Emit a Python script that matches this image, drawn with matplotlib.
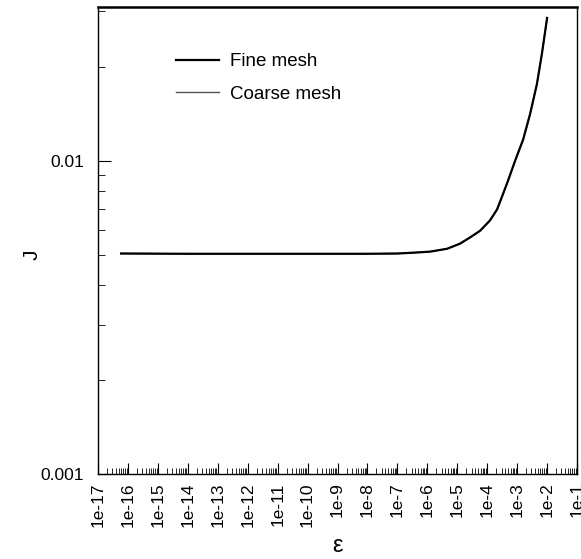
import numpy as np
import matplotlib
matplotlib.use("Agg")
import matplotlib.pyplot as plt
from matplotlib.ticker import LogLocator, FuncFormatter, NullFormatter, FixedLocator

plt.rcParams['font.family'] = ['Liberation Sans', 'DejaVu Sans']

# epsilon values (log10) and J
log_eps = [-16.23, -14.0, -12.0, -10.0, -8.0, -7.0, -6.48, -5.91, -5.34, -4.91,
           -4.58, -4.24, -3.91, -3.67, -3.47, -3.31, -3.07, -2.80, -2.57, -2.34,
           -2.17, -2.0]
j_fine = [0.00506, 0.00505, 0.00505, 0.00505, 0.00505, 0.00506, 0.00509, 0.00513,
          0.00524, 0.00544, 0.00569, 0.00598, 0.00645, 0.00700, 0.00785, 0.00862,
          0.0100, 0.0117, 0.0141, 0.0176, 0.0221, 0.0286]
j_coarse = list(j_fine)

eps = [10.0 ** v for v in log_eps]

fig = plt.figure(figsize=(5.81, 5.59), dpi=100)
ax = fig.add_axes([0.1687, 0.152, 0.8245, 0.8355])

ax.plot(eps, j_coarse, color='#555555', lw=1.0, label='Coarse mesh')
ax.plot(eps, j_fine, color='black', lw=1.6, label='Fine mesh')

ax.set_xscale('log')
ax.set_yscale('log')
ax.set_xlim(1e-17, 1e-1)
ax.set_ylim(0.001, 0.031)

ax.xaxis.set_major_locator(FixedLocator([10.0 ** k for k in range(-17, 0)]))
ax.xaxis.set_minor_locator(LogLocator(base=10, subs=np.arange(2, 10), numticks=100))
ax.xaxis.set_major_formatter(FuncFormatter(lambda v, p: "1e%d" % int(round(np.log10(v)))))
ax.xaxis.set_minor_formatter(NullFormatter())

ax.yaxis.set_major_locator(FixedLocator([0.001, 0.01]))
ax.yaxis.set_minor_locator(LogLocator(base=10, subs=np.arange(2, 10), numticks=10))
ax.yaxis.set_major_formatter(FuncFormatter(lambda v, p: "%g" % v))
ax.yaxis.set_minor_formatter(NullFormatter())

ax.tick_params(axis='x', which='major', direction='in', length=8, width=0.8,
               labelsize=12.5, labelrotation=90, pad=6)
ax.tick_params(axis='x', which='minor', direction='in', length=4, width=0.6)
ax.tick_params(axis='y', which='major', direction='in', length=9, width=0.8,
               labelsize=12.5, pad=10)
ax.tick_params(axis='y', which='minor', direction='in', length=5, width=0.6)

for s in ['left', 'bottom', 'right']:
    ax.spines[s].set_linewidth(1.0)
ax.spines['top'].set_linewidth(1.8)

ax.set_xlabel('ε', fontsize=17, labelpad=6)
ax.set_ylabel('J', fontsize=15)
ax.yaxis.set_label_coords(-0.118, 0.47)

h, l = ax.get_legend_handles_labels()
ax.legend(h[::-1], l[::-1], loc='upper left', bbox_to_anchor=(0.128, 0.937),
          frameon=False, fontsize=13.5, handlelength=2.3, handletextpad=0.55,
          labelspacing=0.8)

fig.savefig('out.png', dpi=100)
